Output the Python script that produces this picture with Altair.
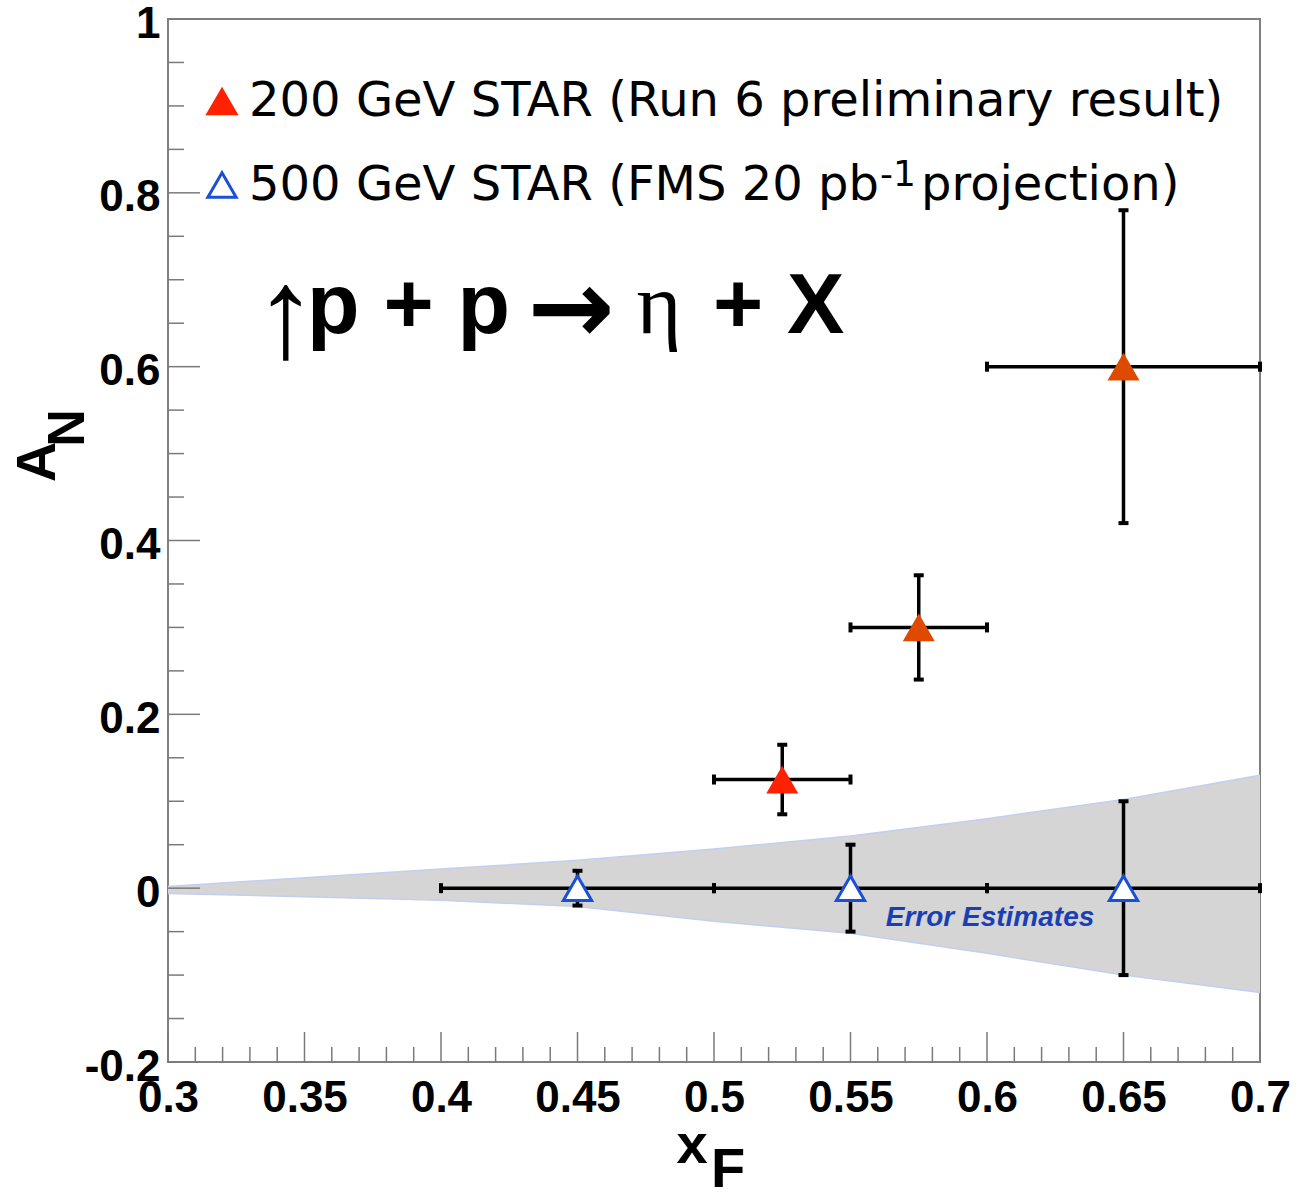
import altair as alt
import pandas as pd

# ---------------- data ----------------
red_x = [0.525, 0.575, 0.65]
red_y = [0.125, 0.30, 0.60]
red_xlo = [0.50, 0.55, 0.60]
red_xhi = [0.55, 0.60, 0.70]
red_yerr = [0.04, 0.06, 0.18]
red_colors = ["#ff2200", "#dd4a00", "#dd4a00"]

blue_x = [0.45, 0.55, 0.65]
blue_y = [0.0, 0.0, 0.0]
blue_xlo = [0.40, 0.50, 0.60]
blue_xhi = [0.50, 0.60, 0.70]
blue_yerr = [0.02, 0.05, 0.10]

band_x = [0.30, 0.40, 0.45, 0.50, 0.55, 0.60, 0.65, 0.70]
band_hi = [0.002, 0.022, 0.032, 0.045, 0.060, 0.080, 0.102, 0.130]
band_lo = [-0.006, -0.014, -0.021, -0.038, -0.052, -0.075, -0.100, -0.120]

x_major = [0.3, 0.35, 0.4, 0.45, 0.5, 0.55, 0.6, 0.65, 0.7]
x_minor = [0.31, 0.32, 0.33, 0.34, 0.36, 0.37, 0.38, 0.39, 0.41, 0.42, 0.43, 0.44,
           0.46, 0.47, 0.48, 0.49, 0.51, 0.52, 0.53, 0.54, 0.56, 0.57, 0.58, 0.59,
           0.61, 0.62, 0.63, 0.64, 0.66, 0.67, 0.68, 0.69]
y_major = [-0.2, 0.0, 0.2, 0.4, 0.6, 0.8, 1.0]
y_minor = [-0.15, -0.1, -0.05, 0.05, 0.1, 0.15, 0.25, 0.3, 0.35, 0.45, 0.5, 0.55,
           0.65, 0.7, 0.75, 0.85, 0.9, 0.95]

legend_labels = ["200 GeV STAR (Run 6 preliminary result)",
                 "500 GeV STAR (FMS 20 pb", "-1", " projection)"]
reaction_parts = ["\u2191", "p + p", "\u2192", "\u03b7", "+ X"]
band_label = "Error Estimates"
x_title = ["x", "F"]
y_title = ["A", "N"]

# ---------------- layout ----------------
W, H = 1092, 1043
LEFT, TOP = 168, 19
FONT = "Liberation Sans"
LFONT = "DejaVu Sans"
XDOM = [0.3, 0.7]
YDOM = [-0.2, 1.0]

red = pd.DataFrame({"x": red_x, "y": red_y, "xlo": red_xlo, "xhi": red_xhi,
                    "ylo": [a - b for a, b in zip(red_y, red_yerr)],
                    "yhi": [a + b for a, b in zip(red_y, red_yerr)],
                    "c": red_colors})
blue = pd.DataFrame({"x": blue_x, "y": blue_y, "xlo": blue_xlo, "xhi": blue_xhi,
                     "ylo": [a - b for a, b in zip(blue_y, blue_yerr)],
                     "yhi": [a + b for a, b in zip(blue_y, blue_yerr)]})
band = pd.DataFrame({"x": band_x, "hi": band_hi, "lo": band_lo})


def X(f):
    return alt.X(f, type="quantitative",
                 scale=alt.Scale(domain=XDOM, nice=False, zero=False),
                 axis=alt.Axis(values=x_major, format="~g", title=None, grid=False,
                               domain=False, ticks=False, labelFontSize=44,
                               labelFont=FONT, labelFontWeight="bold",
                               labelColor="black", labelPadding=14,
                               labelFlush=False, labelOverlap=False))


def Y(f):
    return alt.Y(f, type="quantitative",
                 scale=alt.Scale(domain=YDOM, nice=False, zero=False),
                 axis=alt.Axis(values=y_major, format="~g", title=None, grid=False,
                               domain=False, ticks=False, labelFontSize=44,
                               labelFont=FONT, labelFontWeight="bold",
                               labelColor="black", labelPadding=8,
                               labelOffset=5, labelFlush=False, labelOverlap=False,
                               labelExpr="replace(datum.label, '\u2212', '-')"))


layers = []

# gray error-estimate band
layers.append(alt.Chart(band).mark_area(color="#d5d5d5", opacity=1).encode(
    x=X("x"), y=Y("hi"), y2="lo"))
for col in ["hi", "lo"]:
    layers.append(alt.Chart(band).mark_line(color="#c3cff0", strokeWidth=1.5).encode(
        x=X("x"), y=Y(col)))

# axis ticks drawn inward
TICK = "#7a7a7a"
layers.append(alt.Chart(pd.DataFrame({"v": x_major})).mark_rule(color=TICK, strokeWidth=1.5).encode(
    x=X("v"), y=alt.value(H), y2=alt.value(H - 30)))
layers.append(alt.Chart(pd.DataFrame({"v": x_minor})).mark_rule(color=TICK, strokeWidth=1.5).encode(
    x=X("v"), y=alt.value(H), y2=alt.value(H - 15)))
layers.append(alt.Chart(pd.DataFrame({"v": y_major})).mark_rule(color=TICK, strokeWidth=1.5).encode(
    y=Y("v"), x=alt.value(0), x2=alt.value(32)))
layers.append(alt.Chart(pd.DataFrame({"v": y_minor})).mark_rule(color=TICK, strokeWidth=1.5).encode(
    y=Y("v"), x=alt.value(0), x2=alt.value(16)))

# error bars
for df in [blue, red]:
    layers.append(alt.Chart(df).mark_rule(color="black", strokeWidth=3.5).encode(
        x=X("xlo"), x2="xhi", y=Y("y")))
    layers.append(alt.Chart(df).mark_rule(color="black", strokeWidth=3.5).encode(
        x=X("x"), y=Y("ylo"), y2="yhi"))
    for f in ["xlo", "xhi"]:
        layers.append(alt.Chart(df).mark_tick(orient="vertical", color="black",
                                              size=10, thickness=4, opacity=1).encode(
            x=X(f), y=Y("y")))
    for f in ["ylo", "yhi"]:
        layers.append(alt.Chart(df).mark_tick(orient="horizontal", color="black",
                                              size=10, thickness=4, opacity=1).encode(
            x=X("x"), y=Y(f)))

# markers
layers.append(alt.Chart(blue).mark_point(shape="triangle-up", filled=True, fill="white",
                                         stroke="#1a50d8", strokeWidth=3, size=800,
                                         opacity=1).encode(x=X("x"), y=Y("y")))
layers.append(alt.Chart(red).mark_point(shape="triangle-up", filled=True, size=1024,
                                        opacity=1).encode(
    x=X("x"), y=Y("y"), fill=alt.Fill("c:N", scale=None)))


def txt(s, px, py, **kw):
    return alt.Chart(pd.DataFrame({"t": [s]})).mark_text(**kw).encode(
        x=alt.value(px - LEFT), y=alt.value(py - TOP), text="t:N")


# legend
layers.append(alt.Chart(pd.DataFrame({"s": [legend_labels[0]]})).mark_point(
    shape="triangle-up", filled=True, fill="#ff2200", size=1100, opacity=1).encode(
    x=alt.value(222 - LEFT), y=alt.value(101 - TOP)))
layers.append(alt.Chart(pd.DataFrame({"s": [legend_labels[1]]})).mark_point(
    shape="triangle-up", filled=True, fill="white", stroke="#1a50d8", strokeWidth=3,
    size=800, opacity=1).encode(x=alt.value(222 - LEFT), y=alt.value(185 - TOP)))
LEG = dict(font=LFONT, fontSize=48, color="black", align="left", baseline="alphabetic")
layers.append(txt(legend_labels[0], 249, 116, **LEG))
layers.append(txt(legend_labels[1], 249, 200, **LEG))
layers.append(txt(legend_labels[2], 880, 186, font=LFONT, fontSize=36, color="black",
                  align="left", baseline="alphabetic"))
layers.append(txt(legend_labels[3], 921, 200, **LEG))

# reaction
BIG = dict(font=FONT, fontSize=86, fontWeight="bold", color="black", baseline="alphabetic")
layers.append(txt(reaction_parts[0], 286, 357, font=FONT, fontSize=128, color="black",
                  align="center", baseline="alphabetic"))
layers.append(txt(reaction_parts[1], 307, 333, align="left", **BIG))
layers.append(txt(reaction_parts[2], 571, 343, font="DejaVu Sans", fontSize=104,
                  fontWeight="bold", color="black", align="center", baseline="alphabetic"))
layers.append(txt(reaction_parts[3], 659, 333, font="Liberation Serif", fontSize=86,
                  color="black", align="center", baseline="alphabetic"))
layers.append(txt(reaction_parts[4], 713, 333, align="left", **BIG))

# band label
layers.append(txt(band_label, 990, 918, font=FONT, fontSize=28, fontWeight="bold",
                  fontStyle="italic", color="#1a3fb5", align="center", baseline="middle"))

# axis titles
layers.append(txt(x_title[0], 692, 1146, font=FONT, fontSize=56, fontWeight="bold",
                  color="black", align="center", baseline="middle"))
layers.append(txt(x_title[1], 728, 1170, font=FONT, fontSize=56, fontWeight="bold",
                  color="black", align="center", baseline="middle"))
layers.append(txt(y_title[0], 38, 462, font=FONT, fontSize=56, fontWeight="bold",
                  color="black", align="center", baseline="middle", angle=270))
layers.append(txt(y_title[1], 68, 428, font=FONT, fontSize=52, fontWeight="bold",
                  color="black", align="center", baseline="middle", angle=270))

chart = alt.layer(*layers).properties(
    width=W, height=H,
    autosize=alt.AutoSizeParams(type="none"),
    padding={"left": LEFT, "top": TOP, "right": 1312 - LEFT - W, "bottom": 1199 - TOP - H},
    background="white",
).configure_view(stroke="#808080", strokeWidth=2)

chart.save("out.html", embed_options={"renderer": "svg", "actions": False})
